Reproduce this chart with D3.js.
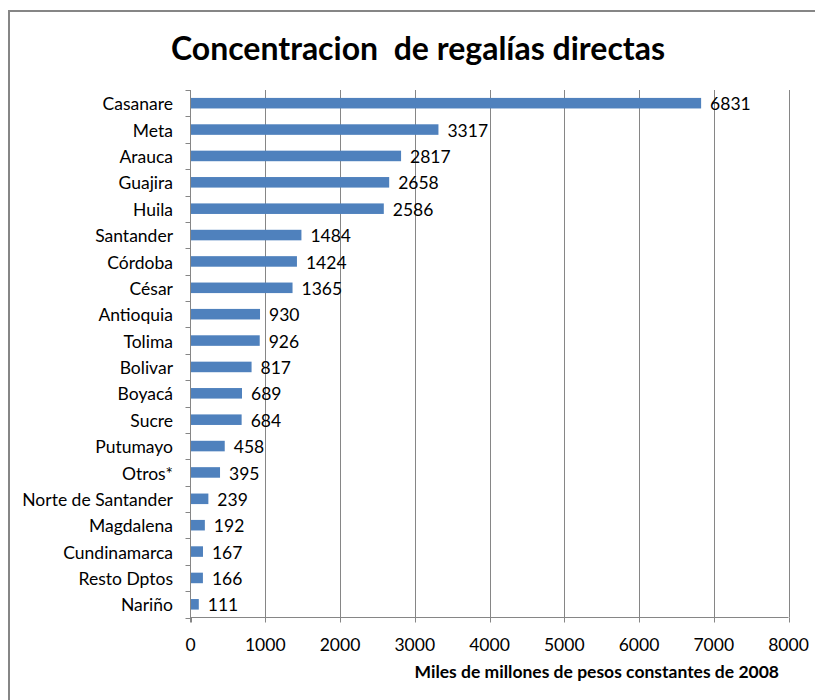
<!DOCTYPE html>
<html>
<head>
<meta charset="utf-8">
<script src="https://cdn.jsdelivr.net/npm/d3@7"></script>
<style>
  body { margin: 0; background: #fff; }
  svg text { font-family: Lato, "Open Sans", sans-serif; fill: #000; }
</style>
</head>
<body>
<svg class="chart"></svg>
<script>
"use strict";

var width = 815;
var height = 700;

var departamentos = ["Casanare", "Meta", "Arauca", "Guajira", "Huila", "Santander", "Córdoba", "César",
  "Antioquia", "Tolima", "Bolivar", "Boyacá", "Sucre", "Putumayo", "Otros*", "Norte de Santander",
  "Magdalena", "Cundinamarca", "Resto Dptos", "Nariño"];
var regalias = [6831, 3317, 2817, 2658, 2586, 1484, 1424, 1365, 930, 926, 817, 689, 684, 458, 395, 239,
  192, 167, 166, 111];
var xTicks = [0, 1000, 2000, 3000, 4000, 5000, 6000, 7000, 8000];

var plotLeft = 190.5, plotRight = 788.5, plotTop = 90, plotBottom = 617.5;

var svg = d3.select(".chart").attr("width", width).attr("height", height);

// outer chart border
svg.append("rect").attr("x", 9).attr("y", 11).attr("width", 830).attr("height", 720)
  .attr("fill", "none").attr("stroke", "#868686").attr("stroke-width", 2);

var x = d3.scaleLinear().domain([0, 8000]).range([plotLeft, plotRight]);
var y = d3.scaleBand().domain(departamentos).range([plotTop, plotBottom]).paddingInner(0.6).paddingOuter(0.3);
var yEdge = d3.scaleLinear().domain([0, departamentos.length]).range([plotTop, plotBottom]);

// grid lines
svg.append("g").selectAll("line").data(xTicks.slice(1)).enter().append("line")
  .attr("x1", function (d) { return Math.round(x(d)) + 0.5; })
  .attr("x2", function (d) { return Math.round(x(d)) + 0.5; })
  .attr("y1", plotTop).attr("y2", plotBottom)
  .attr("stroke", "#868686").attr("stroke-width", 1);

// bars
svg.append("g").selectAll("rect").data(regalias).enter().append("rect")
  .attr("x", x(0))
  .attr("y", function (d, i) { return y(departamentos[i]); })
  .attr("width", function (d) { return x(d) - x(0); })
  .attr("height", y.bandwidth())
  .attr("fill", "#4F81BD");

// value labels
svg.append("g").selectAll("text").data(regalias).enter().append("text")
  .attr("x", function (d) { return x(d) + 9; })
  .attr("y", function (d, i) { return y(departamentos[i]) + y.bandwidth() / 2 + 1; })
  .attr("dy", "0.35em")
  .style("font-size", "17.5px")
  .text(function (d) { return d; });

// y axis
var yAxis = svg.append("g");
yAxis.append("line").attr("x1", plotLeft).attr("x2", plotLeft).attr("y1", plotTop).attr("y2", plotBottom + 5)
  .attr("stroke", "#868686");
yAxis.selectAll(".tk").data(d3.range(departamentos.length + 1)).enter().append("line")
  .attr("x1", plotLeft - 5).attr("x2", plotLeft)
  .attr("y1", function (d) { return Math.round(yEdge(d)) + 0.5; })
  .attr("y2", function (d) { return Math.round(yEdge(d)) + 0.5; })
  .attr("stroke", "#868686");
yAxis.selectAll("text").data(departamentos).enter().append("text")
  .attr("x", 173)
  .attr("y", function (d) { return y(d) + y.bandwidth() / 2 + 1; })
  .attr("dy", "0.35em")
  .attr("text-anchor", "end")
  .style("font-size", "17.5px")
  .text(function (d) { return d; });

// x axis
var xAxis = svg.append("g");
xAxis.append("line").attr("x1", plotLeft).attr("x2", plotRight).attr("y1", plotBottom).attr("y2", plotBottom)
  .attr("stroke", "#868686");
xAxis.selectAll(".tk").data(xTicks).enter().append("line")
  .attr("x1", function (d) { return Math.round(x(d)) + 0.5; })
  .attr("x2", function (d) { return Math.round(x(d)) + 0.5; })
  .attr("y1", plotBottom).attr("y2", plotBottom + 5)
  .attr("stroke", "#868686");
xAxis.selectAll("text").data(xTicks).enter().append("text")
  .attr("x", function (d) { return x(d); })
  .attr("y", 645)
  .attr("dy", "0.35em")
  .attr("text-anchor", "middle")
  .style("font-size", "17.5px")
  .text(function (d) { return d; });

// titles
svg.append("text").attr("x", 418).attr("y", 60)
  .attr("text-anchor", "middle")
  .style("font-size", "32px").style("font-weight", "bold").style("white-space", "pre")
  .text("Concentracion  de regalías directas");

svg.append("text").attr("x", 779).attr("y", 678)
  .attr("text-anchor", "end")
  .style("font-size", "17.5px").style("font-weight", "bold")
  .text("Miles de millones de pesos constantes de 2008");
</script>
</body>
</html>
